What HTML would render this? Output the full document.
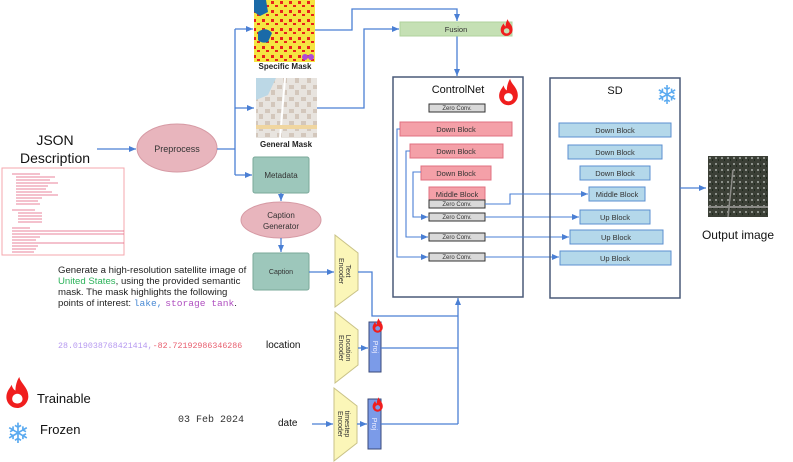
<!DOCTYPE html>
<html><head><meta charset="utf-8"><style>
html,body{margin:0;padding:0;background:#fff;}
svg{display:block;font-family:"Liberation Sans",sans-serif;}
</style></head><body>
<svg width="793" height="462" viewBox="0 0 793 462" xmlns="http://www.w3.org/2000/svg">
<defs>
<marker id="a" markerWidth="8" markerHeight="8" refX="7" refY="4" orient="auto" markerUnits="userSpaceOnUse"><path d="M0,1 L7,4 L0,7 z" fill="#4a7fd4"/></marker>
<pattern id="pm" width="9" height="9" patternUnits="userSpaceOnUse"><rect width="9" height="9" fill="#f5e542"/><rect x="1" y="1" width="3" height="3" fill="#e8231a"/><rect x="5" y="5" width="3" height="2" fill="#e8231a"/></pattern>
<pattern id="gm" width="12" height="12" patternUnits="userSpaceOnUse"><rect width="12" height="12" fill="#e8e4df"/><rect x="1" y="1" width="5" height="4" fill="#d3c7bc"/><rect x="7" y="6" width="4" height="5" fill="#d3c7bc"/></pattern>
<pattern id="om" width="6" height="6" patternUnits="userSpaceOnUse"><rect width="6" height="6" fill="#3b3f36"/><rect x="1" y="1" width="2" height="2" fill="#8c918a"/><rect x="4" y="3" width="1" height="2" fill="#1f2a1e"/></pattern>
<symbol id="fl" viewBox="0 0 20 24"><path d="M11,0 C12,5 18,8 18,15 C18,20 14,24 9.5,24 C4.5,24 1,20 1,15.5 C1,11 4,8.5 5,6 C6,9 7,10 8,10.5 C8,7 9,3 11,0 Z M9.5,13 C7,13 5.5,15 5.5,17 C5.5,19 7.2,20.5 9.5,20.5 C11.8,20.5 13.5,19 13.5,17 C13.5,15 12,13 9.5,13 Z" fill="#f01e1e" fill-rule="evenodd"/></symbol>
</defs>

<!-- JSON -->
<text x="55" y="145" font-size="14" text-anchor="middle" fill="#111">JSON</text>
<text x="55" y="163" font-size="14" text-anchor="middle" fill="#111">Description</text>
<rect x="2" y="168" width="122" height="87" fill="#fff" stroke="#f4a7ae" stroke-width="1"/>
<g stroke="#e05a7a" stroke-width="0.8">
<line x1="12" y1="174" x2="40" y2="174"/><line x1="16" y1="177" x2="55" y2="177"/><line x1="16" y1="180" x2="50" y2="180"/><line x1="16" y1="183" x2="58" y2="183"/><line x1="16" y1="186" x2="48" y2="186"/><line x1="16" y1="189" x2="46" y2="189"/><line x1="16" y1="192" x2="52" y2="192"/><line x1="16" y1="195" x2="58" y2="195"/><line x1="16" y1="198" x2="42" y2="198"/><line x1="16" y1="201" x2="38" y2="201"/><line x1="16" y1="204" x2="40" y2="204"/>
<line x1="12" y1="210" x2="35" y2="210"/><line x1="18" y1="213" x2="42" y2="213"/><line x1="18" y1="216" x2="42" y2="216"/><line x1="18" y1="219" x2="42" y2="219"/><line x1="18" y1="222" x2="42" y2="222"/>
<line x1="12" y1="228" x2="30" y2="228"/><line x1="12" y1="231" x2="124" y2="231"/><line x1="12" y1="234" x2="124" y2="234"/><line x1="12" y1="237" x2="40" y2="237"/><line x1="12" y1="240" x2="36" y2="240"/><line x1="12" y1="243" x2="124" y2="243"/><line x1="12" y1="246" x2="38" y2="246"/><line x1="12" y1="249" x2="36" y2="249"/><line x1="12" y1="252" x2="34" y2="252"/>
</g>

<!-- Preprocess -->
<line x1="97" y1="149" x2="136" y2="149" stroke="#4a7fd4" stroke-width="1.3" marker-end="url(#a)"/>
<ellipse cx="177" cy="148" rx="40" ry="24" fill="#e8b5bd" stroke="#d69aa4"/>
<text x="177" y="152" font-size="9" text-anchor="middle" fill="#333">Preprocess</text>
<g stroke="#4a7fd4" stroke-width="1.3" fill="none">
<polyline points="217,149 235,149"/>
<line x1="235" y1="29" x2="235" y2="175"/>
<line x1="235" y1="29" x2="253" y2="29" marker-end="url(#a)"/>
<line x1="235" y1="108" x2="254" y2="108" marker-end="url(#a)"/>
<line x1="235" y1="175" x2="252" y2="175" marker-end="url(#a)"/>
</g>

<!-- masks -->
<rect x="254" y="0" width="61" height="62" fill="url(#pm)"/>
<path d="M254,0 L266,0 L268,12 L260,16 L254,12 Z" fill="#1a6aa8"/>
<path d="M258,32 Q266,26 272,33 L268,42 Q262,44 258,40 Z" fill="#1a6aa8"/>
<circle cx="305" cy="57" r="3" fill="#b04ad8"/><circle cx="311" cy="57" r="3" fill="#b04ad8"/>
<text x="285" y="69" font-size="8" font-weight="bold" text-anchor="middle" fill="#222">Specific Mask</text>
<rect x="256" y="78" width="61" height="60" fill="url(#gm)"/>
<path d="M256,78 L276,78 L268,95 L256,100 Z" fill="#bcd8e6"/>
<line x1="285" y1="78" x2="280" y2="138" stroke="#fff" stroke-width="2"/>
<rect x="256" y="125" width="61" height="4" fill="#f0d6a0"/>
<text x="286" y="147" font-size="8" font-weight="bold" text-anchor="middle" fill="#222">General Mask</text>

<!-- mask to fusion -->
<g stroke="#4a7fd4" stroke-width="1.3" fill="none">
<polyline points="315,30 352,30 352,9 457,9 457,21" marker-end="url(#a)"/>
<polyline points="317,108 364,108 364,29 399,29" marker-end="url(#a)"/>
<line x1="457" y1="36" x2="457" y2="76" marker-end="url(#a)"/>
</g>
<rect x="400" y="22" width="112" height="14" fill="#c5e0b4" stroke="#b0d29c"/>
<text x="456" y="32" font-size="7.5" text-anchor="middle" fill="#333">Fusion</text>
<use href="#fl" x="500" y="19" width="14" height="17"/>

<!-- Metadata / caption -->
<rect x="253" y="157" width="56" height="36" rx="2" fill="#9dc7bb" stroke="#7aa89a"/>
<text x="281" y="178" font-size="8" text-anchor="middle" fill="#333">Metadata</text>
<line x1="281" y1="193" x2="281" y2="201" stroke="#4a7fd4" stroke-width="1.3" marker-end="url(#a)"/>
<ellipse cx="281" cy="220" rx="40" ry="18" fill="#e8b5bd" stroke="#d69aa4"/>
<text x="281" y="218" font-size="8" text-anchor="middle" fill="#333">Caption</text>
<text x="281" y="229" font-size="8" text-anchor="middle" fill="#333">Generator</text>
<line x1="281" y1="238" x2="281" y2="252" stroke="#4a7fd4" stroke-width="1.3" marker-end="url(#a)"/>
<rect x="253" y="253" width="56" height="37" rx="2" fill="#9dc7bb" stroke="#7aa89a"/>
<text x="281" y="274" font-size="7" text-anchor="middle" fill="#333">Caption</text>

<!-- Encoders -->
<g fill="#fbf6b8" stroke="#c9c287">
<polygon points="335,235 358,253 358,290 335,307"/>
<polygon points="335,312 358,330 358,365 335,383"/>
<polygon points="334,388 357,406 357,443 334,461"/>
</g>
<g font-size="7" text-anchor="middle" fill="#333">
<text transform="translate(346,271) rotate(90)">Text</text>
<text transform="translate(339,271) rotate(90)">Encoder</text>
<text transform="translate(346,348) rotate(90)">Location</text>
<text transform="translate(339,348) rotate(90)">Encoder</text>
<text transform="translate(345,424) rotate(90)">timestep</text>
<text transform="translate(338,424) rotate(90)">Encoder</text>
</g>

<rect x="369" y="322" width="12" height="50" fill="#7b9be8" stroke="#3a4a7a"/>
<text transform="translate(373,347) rotate(90)" font-size="7" text-anchor="middle" fill="#eef">Proj</text>
<rect x="368" y="399" width="13" height="50" fill="#7b9be8" stroke="#3a4a7a"/>
<text transform="translate(372,424) rotate(90)" font-size="7" text-anchor="middle" fill="#eef">Proj</text>
<use href="#fl" x="372" y="318" width="12" height="15"/>
<use href="#fl" x="372" y="397" width="12" height="15"/>

<g stroke="#4a7fd4" stroke-width="1.3" fill="none">
<line x1="309" y1="272" x2="334" y2="272" marker-end="url(#a)"/>
<polyline points="358,272 372,272 372,316 458,316"/>
<line x1="358" y1="348" x2="368" y2="348" marker-end="url(#a)"/>
<line x1="381" y1="348" x2="458" y2="348"/>
<line x1="312" y1="424" x2="333" y2="424" marker-end="url(#a)"/>
<line x1="357" y1="424" x2="367" y2="424" marker-end="url(#a)"/>
<line x1="381" y1="424" x2="458" y2="424"/>
<line x1="458" y1="424" x2="458" y2="298" marker-end="url(#a)"/>
</g>

<!-- ControlNet -->
<rect x="393" y="77" width="130" height="220" fill="none" stroke="#4a5a78" stroke-width="1.5"/>
<text x="458" y="93" font-size="11" text-anchor="middle" fill="#111">ControlNet</text>
<use href="#fl" x="498" y="78" width="22" height="28"/>
<g fill="#f4a0a8" stroke="#e07080">
<rect x="400" y="122" width="112" height="14"/>
<rect x="410" y="144" width="93" height="14"/>
<rect x="421" y="166" width="70" height="14"/>
<rect x="429" y="187" width="56" height="13"/>
</g>
<g fill="#d9d9d9" stroke="#333">
<rect x="429" y="104" width="56" height="8"/>
<rect x="429" y="200" width="56" height="8"/>
<rect x="429" y="213" width="56" height="8"/>
<rect x="429" y="233" width="56" height="8"/>
<rect x="429" y="253" width="56" height="8"/>
</g>
<g font-size="7.5" text-anchor="middle" fill="#333">
<text x="456" y="132">Down Block</text>
<text x="456" y="154">Down Block</text>
<text x="456" y="176">Down Block</text>
<text x="457" y="197">Middle Block</text>
</g>
<g font-size="6" text-anchor="middle" fill="#333">
<text x="457" y="110">Zero Conv.</text>
<text x="457" y="206">Zero Conv.</text>
<text x="457" y="219">Zero Conv.</text>
<text x="457" y="239">Zero Conv.</text>
<text x="457" y="259">Zero Conv.</text>
</g>
<g stroke="#4a7fd4" stroke-width="1.1" fill="none">
<polyline points="400,129 397,129 397,257 428,257" marker-end="url(#a)"/>
<polyline points="410,151 406,151 406,237 428,237" marker-end="url(#a)"/>
<polyline points="421,172 413,172 413,217 428,217" marker-end="url(#a)"/>
<polyline points="485,204 510,204 510,194 588,194" marker-end="url(#a)"/>
<line x1="485" y1="217" x2="579" y2="217" marker-end="url(#a)"/>
<line x1="485" y1="237" x2="569" y2="237" marker-end="url(#a)"/>
<line x1="485" y1="257" x2="559" y2="257" marker-end="url(#a)"/>
</g>

<!-- SD -->
<rect x="550" y="78" width="130" height="220" fill="none" stroke="#4a5a78" stroke-width="1.5"/>
<text x="615" y="94" font-size="11" text-anchor="middle" fill="#111">SD</text>
<text x="667" y="104" font-size="26" text-anchor="middle" fill="#5aaaf0">❄</text>
<g fill="#b4d8ea" stroke="#5b8fd0">
<rect x="559" y="123" width="112" height="14"/>
<rect x="568" y="145" width="94" height="14"/>
<rect x="580" y="166" width="70" height="14"/>
<rect x="589" y="187" width="56" height="14"/>
<rect x="580" y="210" width="70" height="14"/>
<rect x="570" y="230" width="93" height="14"/>
<rect x="560" y="251" width="111" height="14"/>
</g>
<g font-size="7.5" text-anchor="middle" fill="#333">
<text x="615" y="133">Down Block</text>
<text x="615" y="155">Down Block</text>
<text x="615" y="176">Down Block</text>
<text x="617" y="197">Middle Block</text>
<text x="615" y="220">Up Block</text>
<text x="616" y="240">Up Block</text>
<text x="615" y="261">Up Block</text>
</g>

<!-- output -->
<line x1="680" y1="188" x2="706" y2="188" stroke="#4a7fd4" stroke-width="1.3" marker-end="url(#a)"/>
<rect x="708" y="156" width="60" height="61" fill="url(#om)"/>
<line x1="708" y1="207" x2="768" y2="207" stroke="#8a8a86" stroke-width="2"/>
<line x1="733" y1="170" x2="728" y2="217" stroke="#8a8a86" stroke-width="1.5"/>
<text x="738" y="239" font-size="12" text-anchor="middle" fill="#111">Output image</text>

<!-- caption text -->
<g font-size="9.6" fill="#222">
<text x="58" y="273">Generate a high-resolution satellite image of</text>
<text x="58" y="284"><tspan fill="#2cb35a">United States</tspan>, using the provided semantic</text>
<text x="58" y="295">mask. The mask highlights the following</text>
<text x="58" y="306">points of interest: <tspan font-family="Liberation Mono,monospace" fill="#4a8ad4">lake,</tspan> <tspan font-family="Liberation Mono,monospace" fill="#b050c0">storage tank</tspan>.</text>
</g>
<text x="58" y="348" font-size="8.3" font-family="Liberation Mono,monospace"><tspan fill="#b79af0">28.019038768421414,</tspan><tspan fill="#e86070">-82.72192986346286</tspan></text>
<text x="266" y="348" font-size="10" fill="#111">location</text>
<text x="178" y="422" font-size="10" font-family="Liberation Mono,monospace" fill="#333">03 Feb 2024</text>
<text x="278" y="426" font-size="10" fill="#111">date</text>

<!-- legend -->
<use href="#fl" x="5" y="377" width="26" height="31"/>
<text x="37" y="403" font-size="13" fill="#111">Trainable</text>
<text x="18" y="443" font-size="28" text-anchor="middle" fill="#5aaaf0">❄</text>
<text x="40" y="434" font-size="13" fill="#111">Frozen</text>
</svg>
</body></html>
